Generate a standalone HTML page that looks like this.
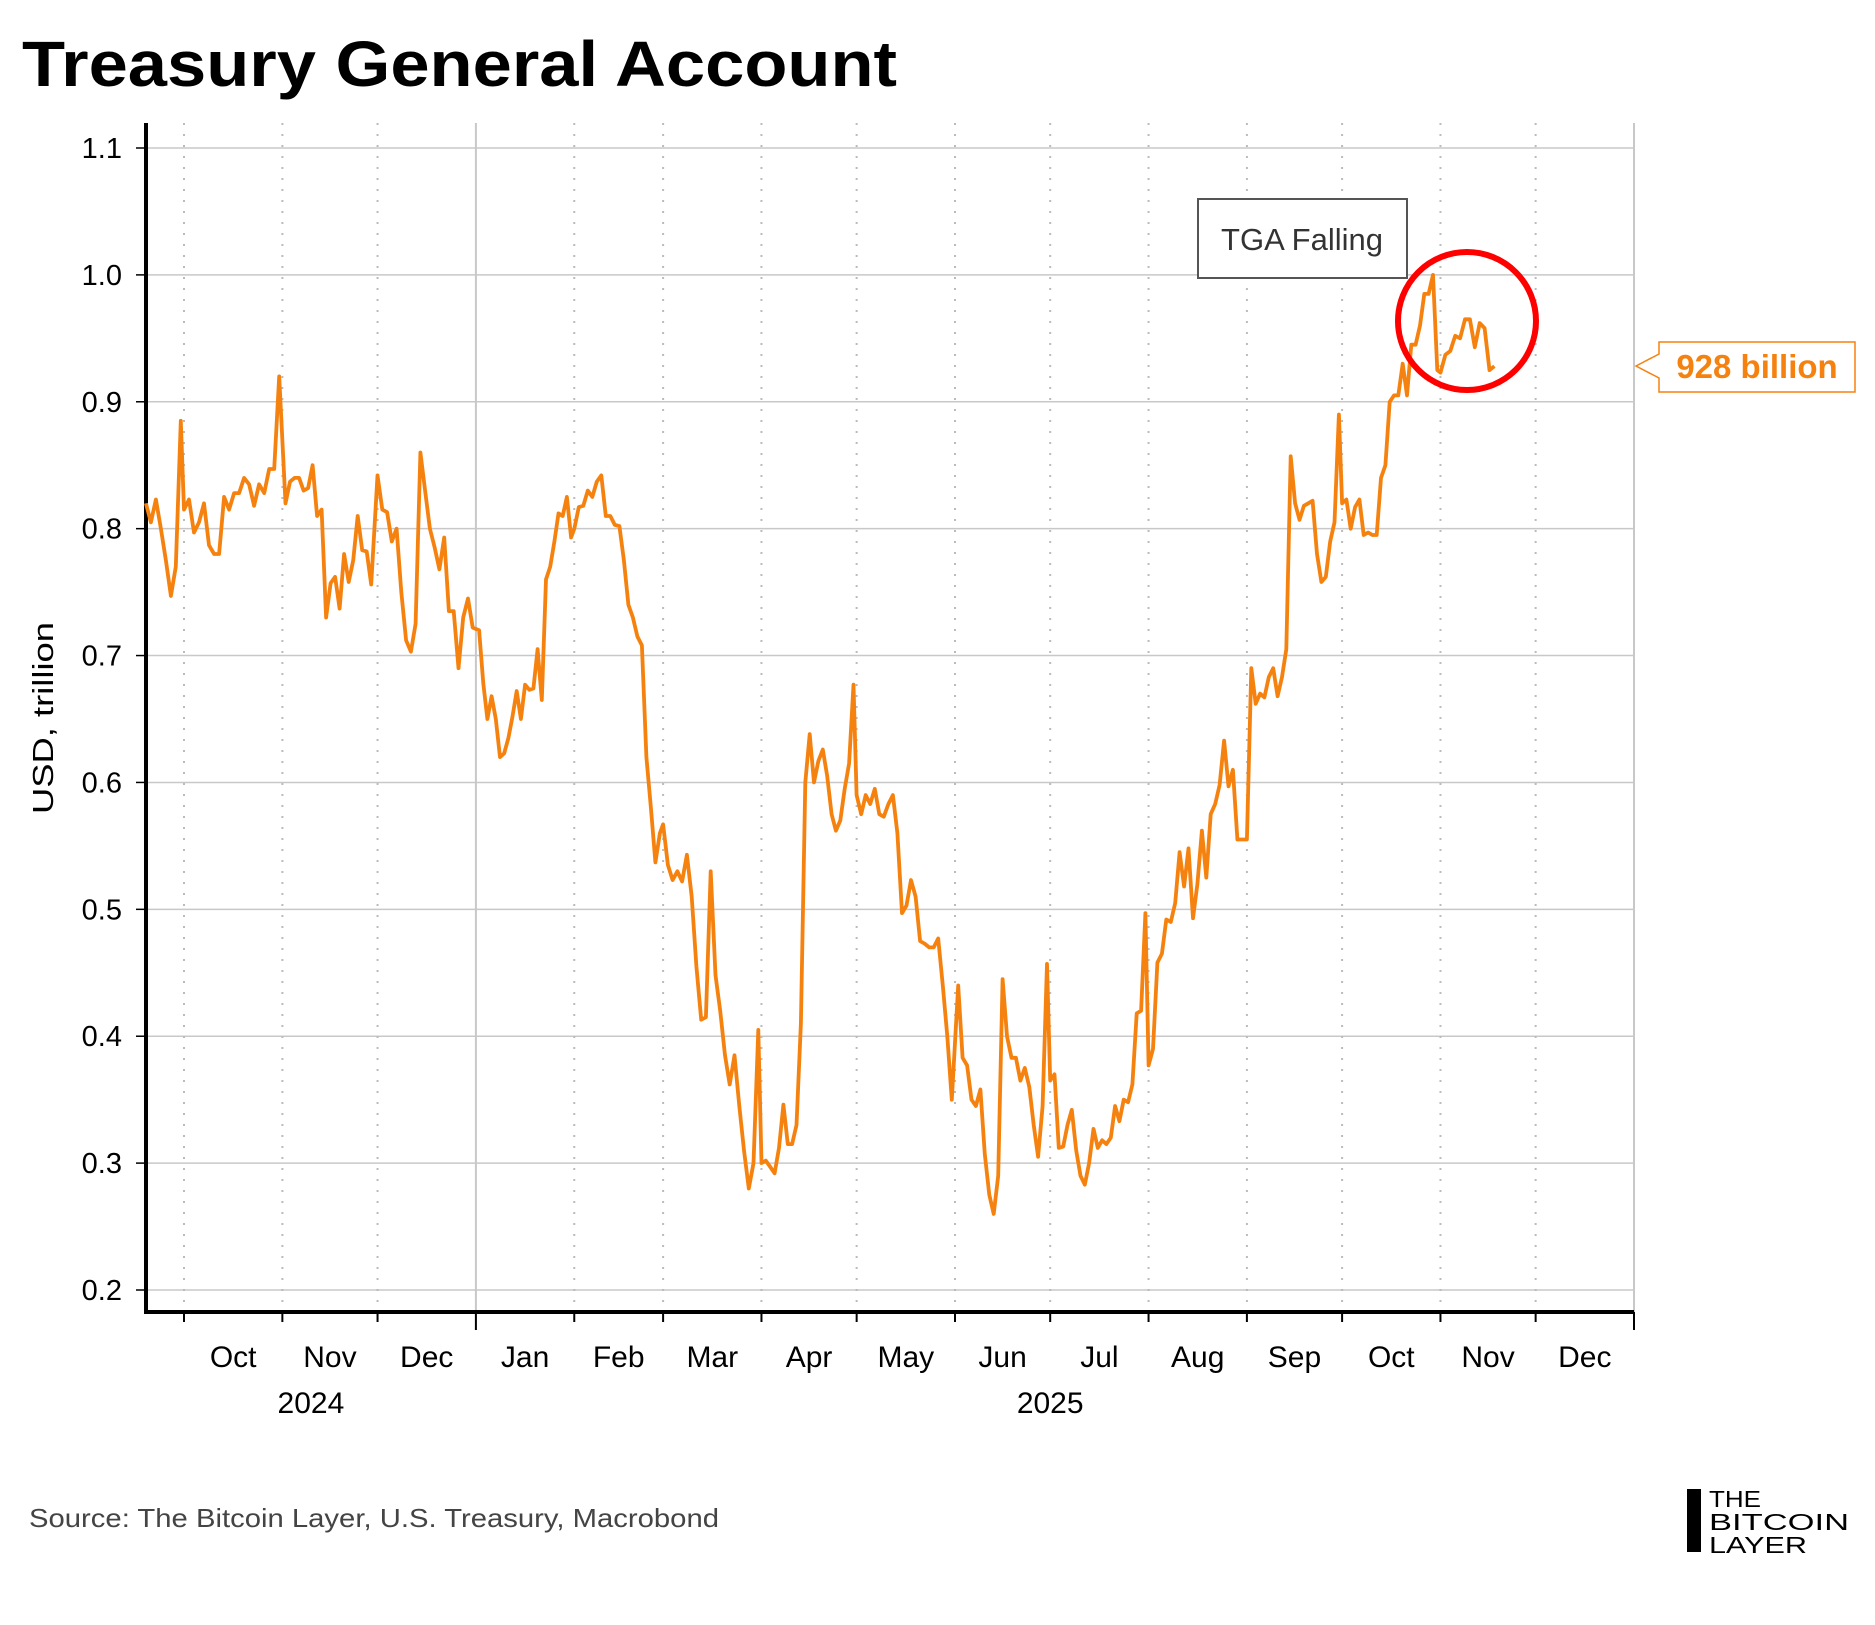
<!DOCTYPE html>
<html><head><meta charset="utf-8">
<style>
html,body{margin:0;padding:0;background:#fff;}
svg{display:block;font-family:"Liberation Sans","DejaVu Sans",sans-serif;}
</style></head>
<body>
<svg id="chart" width="1875" height="1625" viewBox="0 0 1875 1625" xmlns="http://www.w3.org/2000/svg">
<text x="22" y="86" font-size="64" font-weight="bold" fill="#000" textLength="875" lengthAdjust="spacingAndGlyphs">Treasury General Account</text>
<g id="grid"></g>
<g id="axes"></g>
<path id="series" fill="none" stroke="#f5820f" stroke-width="3.8" stroke-linejoin="round"/>
<text x="0" y="0" transform="translate(53,718) rotate(-90)" text-anchor="middle" font-size="29" fill="#000" textLength="192" lengthAdjust="spacingAndGlyphs">USD, trillion</text>
<g>
<rect x="1198" y="199" width="209" height="79" fill="#fff" stroke="#555" stroke-width="2"/>
<text x="1302" y="250" text-anchor="middle" font-size="31" fill="#333">TGA Falling</text>
</g>
<ellipse cx="1467" cy="321" rx="69" ry="69" fill="none" stroke="#f00" stroke-width="6"/>
<g>
<path d="M1636,366 L1659,354 L1659,342 L1855,342 L1855,392 L1659,392 L1659,378 Z" fill="#fff" stroke="#f5820f" stroke-width="1.5"/>
<text x="1757" y="378" text-anchor="middle" font-size="33" font-weight="bold" fill="#f5820f">928 billion</text>
</g>
<text x="29" y="1527" font-size="26" fill="#444" textLength="690" lengthAdjust="spacingAndGlyphs">Source: The Bitcoin Layer, U.S. Treasury, Macrobond</text>
<g>
<rect x="1687" y="1489" width="14" height="63" fill="#000"/>
<text x="1709" y="1507" font-size="23" fill="#000" textLength="52" lengthAdjust="spacingAndGlyphs">THE</text>
<text x="1709" y="1530" font-size="23" fill="#000" textLength="140" lengthAdjust="spacingAndGlyphs">BITCOIN</text>
<text x="1709" y="1553" font-size="23" fill="#000" textLength="98" lengthAdjust="spacingAndGlyphs">LAYER</text>
</g>
</svg>
<script>
const yTicks = [0.2,0.3,0.4,0.5,0.6,0.7,0.8,0.9,1.0,1.1];
const monthTicks = ["2024-10-01","2024-11-01","2024-12-01","2025-01-01","2025-02-01","2025-03-01","2025-04-01","2025-05-01","2025-06-01","2025-07-01","2025-08-01","2025-09-01","2025-10-01","2025-11-01","2025-12-01","2026-01-01"];
const monthLabels = ["Oct","Nov","Dec","Jan","Feb","Mar","Apr","May","Jun","Jul","Aug","Sep","Oct","Nov","Dec"];
const yearLabels = [["2024","2024-11-10"],["2025","2025-07-01"]];
const segStart = ["2024-09-19","2024-10-01","2024-11-02","2024-12-01","2025-01-02","2025-02-01","2025-03-01","2025-04-01","2025-05-01","2025-06-02","2025-07-01","2025-08-01","2025-09-01","2025-10-01","2025-11-01"];
const segEnd   = ["2024-09-30","2024-10-31","2024-11-29","2024-12-31","2025-01-31","2025-02-28","2025-03-31","2025-04-30","2025-05-31","2025-06-30","2025-07-31","2025-08-29","2025-09-30","2025-10-31","2025-11-18"];
const segValues = [
 [0.82,0.805,0.823,0.80,0.775,0.747,0.77,0.885],
 [0.815,0.823,0.797,0.805,0.82,0.787,0.78,0.78,0.825,0.815,0.828,0.828,0.84,0.835,0.818,0.835,0.828,0.847,0.847,0.92],
 [0.82,0.837,0.84,0.84,0.83,0.832,0.85,0.81,0.815,0.73,0.757,0.762,0.737,0.78,0.758,0.775,0.81,0.783,0.782,0.756],
 [0.842,0.815,0.813,0.79,0.80,0.75,0.712,0.703,0.725,0.86,0.83,0.80,0.785,0.768,0.793,0.735,0.735,0.69,0.73,0.745,0.722],
 [0.72,0.678,0.65,0.668,0.65,0.62,0.623,0.635,0.652,0.672,0.65,0.677,0.673,0.674,0.705,0.665,0.76,0.77,0.79,0.812,0.81,0.825,0.793],
 [0.80,0.817,0.818,0.83,0.825,0.837,0.842,0.81,0.81,0.803,0.802,0.775,0.74,0.73,0.715,0.708,0.62,0.58,0.537,0.56],
 [0.567,0.535,0.523,0.53,0.522,0.543,0.51,0.455,0.413,0.415,0.53,0.448,0.42,0.385,0.362,0.385,0.345,0.31,0.28,0.30,0.405],
 [0.30,0.302,0.297,0.292,0.312,0.346,0.315,0.315,0.33,0.41,0.60,0.638,0.60,0.617,0.626,0.605,0.575,0.562,0.57,0.595,0.615,0.677],
 [0.59,0.575,0.59,0.583,0.595,0.575,0.573,0.583,0.59,0.56,0.497,0.503,0.523,0.51,0.475,0.473,0.47,0.47,0.477,0.44,0.40,0.35],
 [0.44,0.383,0.377,0.35,0.345,0.358,0.307,0.275,0.26,0.29,0.445,0.40,0.383,0.383,0.365,0.375,0.36,0.33,0.305,0.345,0.457],
 [0.365,0.37,0.312,0.313,0.33,0.342,0.31,0.29,0.283,0.30,0.327,0.312,0.318,0.315,0.32,0.345,0.333,0.35,0.348,0.362,0.418,0.42,0.497],
 [0.377,0.39,0.458,0.465,0.492,0.49,0.505,0.545,0.518,0.548,0.493,0.52,0.562,0.525,0.575,0.583,0.598,0.633,0.597,0.61,0.555],
 [0.555,0.69,0.662,0.67,0.667,0.683,0.69,0.668,0.683,0.705,0.857,0.82,0.807,0.818,0.82,0.822,0.78,0.758,0.762,0.79,0.805,0.89],
 [0.82,0.823,0.80,0.817,0.823,0.795,0.797,0.795,0.795,0.84,0.85,0.90,0.905,0.905,0.93,0.905,0.945,0.945,0.96,0.985,0.985,1.0,0.925],
 [0.923,0.937,0.94,0.952,0.95,0.965,0.965,0.943,0.962,0.958,0.925,0.928]
];

const NS = "http://www.w3.org/2000/svg";
const PL = 146, PR = 1634, PT = 123, PB = 1312;
const day = s => Date.parse(s + "T00:00:00Z") / 86400000;
const d0 = day("2024-10-01"), d1 = day("2026-01-01");
const xS = d => 184 + (d - d0) * (1634 - 184) / (d1 - d0);
const yS = v => 1290 - (v - 0.2) * (1290 - 148) / 0.9;
function mk(tag, attrs, parent){ const e = document.createElementNS(NS, tag); for (const k in attrs) e.setAttribute(k, attrs[k]); parent.appendChild(e); return e; }
const grid = document.getElementById("grid"), axes = document.getElementById("axes");

yTicks.forEach(v => {
  const y = yS(v);
  const l = mk("line", {x1: PL, x2: PR, y1: y, y2: y, stroke: "#c8c8c8", "stroke-width": 1.5}, grid);
  
  
  mk("line", {x1: PL - 10, x2: PL, y1: y, y2: y, stroke: "#000", "stroke-width": 1.5}, axes);
  const t = mk("text", {x: PL - 24, y: y + 10, "text-anchor": "end", "font-size": 29, fill: "#000"}, axes);
  t.textContent = v.toFixed(1);
  
  
});
monthTicks.forEach((m, i) => {
  const x = xS(day(m));
  const isYear = m.endsWith("01-01");
  if (i < monthTicks.length - 1) {
    const l = mk("line", {x1: x, x2: x, y1: PT, y2: PB, stroke: isYear ? "#c8c8c8" : "#bbb", "stroke-width": 2, "stroke-dasharray": isYear ? "none" : "2,9"}, grid);
    
    
  }
  mk("line", {x1: x, x2: x, y1: PB, y2: PB + (isYear ? 18 : 10), stroke: "#000", "stroke-width": 2}, axes);
  if (i < monthLabels.length) {
    const xn = xS(day(monthTicks[i + 1]));
    const t = mk("text", {x: (x + xn) / 2, y: 1367, "text-anchor": "middle", "font-size": 30, fill: "#000"}, axes);
    t.textContent = monthLabels[i];
    
    
  }
});
yearLabels.forEach(([lab, d]) => {
  const t = mk("text", {x: xS(day(d)), y: 1413, "text-anchor": "middle", "font-size": 30, fill: "#000"}, axes);
  t.textContent = lab;
  
  
});
mk("line", {x1: PR, x2: PR, y1: PT, y2: PB, stroke: "#c8c8c8", "stroke-width": 2}, axes);
mk("line", {x1: PL, x2: PL, y1: PT, y2: PB + 2, stroke: "#000", "stroke-width": 4}, axes);
mk("line", {x1: PL - 2, x2: PR, y1: PB, y2: PB, stroke: "#000", "stroke-width": 4}, axes);

let d = "";
segValues.forEach((vals, s) => {
  const a = day(segStart[s]), b = day(segEnd[s]), n = vals.length;
  vals.forEach((v, i) => {
    const dd = n > 1 ? a + (b - a) * i / (n - 1) : a;
    d += (d ? "L" : "M") + xS(dd).toFixed(1) + "," + yS(v).toFixed(1);
  });
});
document.getElementById("series").setAttribute("d", d);
</script>
</body></html>
